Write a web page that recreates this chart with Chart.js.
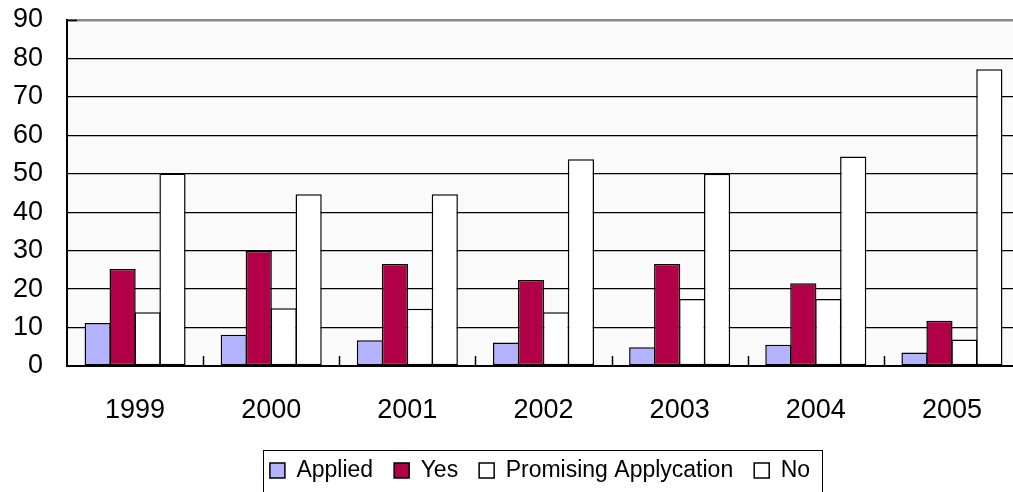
<!DOCTYPE html>
<html>
<head>
<meta charset="utf-8">
<script src="https://cdn.jsdelivr.net/npm/chart.js@4/dist/chart.umd.min.js"></script>
<style>
  html, body { margin: 0; padding: 0; background: #fff; overflow: hidden; }
  #chart { position: absolute; left: 0; top: 0; }
</style>
</head>
<body>
<canvas id="chart" width="1040" height="492"></canvas>
<script>
const years = ["1999", "2000", "2001", "2002", "2003", "2004", "2005"];
const applied = [11.2, 8.1, 6.7, 6.1, 4.9, 5.5, 3.5];
const yes = [25.2, 29.9, 26.5, 22.4, 26.5, 21.5, 11.8];
const promising = [14.0, 15.0, 14.9, 14.0, 17.4, 17.4, 6.9];
const no = [50.1, 44.7, 44.7, 53.8, 50.0, 54.5, 77.2];

const FONT = "'Liberation Sans', Arial, sans-serif";

// grey plot background, small inner tick marks, and the legend frame
const extras = {
  id: "extras",
  afterLayout(chart) {
    // legend sits a bit right of the canvas centre
    const lg = chart.legend;
    lg.left += 30;
    lg.right += 30;
  },
  beforeDraw(chart) {
    const { ctx, chartArea: a } = chart;
    ctx.save();
    ctx.fillStyle = "#fafafa";
    ctx.fillRect(a.left, a.top, a.right - a.left, a.bottom - a.top);
    ctx.restore();
  },
  afterDatasetsDraw(chart) {
    const { ctx, chartArea: a } = chart;
    const x = chart.scales.x;
    const y = chart.scales.y;
    ctx.save();
    ctx.strokeStyle = "#000";
    ctx.lineWidth = 1.5;
    ctx.beginPath();
    for (let i = 1; i < years.length; i++) {
      const px = Math.round((x.getPixelForValue(i - 1) + x.getPixelForValue(i)) / 2) + 0.5;
      ctx.moveTo(px, a.bottom);
      ctx.lineTo(px, a.bottom - 10);
    }
    const top = Math.round(y.getPixelForValue(90)) + 0.5;
    ctx.moveTo(a.left, top);
    ctx.lineTo(a.left + 10, top);
    ctx.stroke();

    const lg = chart.legend;
    const boxes = lg.legendHitBoxes;
    if (boxes && boxes.length) {
      const first = boxes[0];
      const last = boxes[boxes.length - 1];
      const left = Math.round(first.left - 7) + 0.5;
      const right = Math.round(last.left + last.width + 12) + 0.5;
      const t = Math.round(lg.top + 12) + 0.5;
      ctx.lineWidth = 1;
      ctx.strokeRect(left, t, right - left, 80);
    }
    ctx.restore();
  }
};

const border = { borderColor: "#000", borderWidth: 1.5, borderSkipped: false };

new Chart(document.getElementById("chart"), {
  type: "bar",
  data: {
    labels: years,
    datasets: [
      { label: "Applied", data: applied, backgroundColor: "#b3b3ff", ...border },
      { label: "Yes", data: yes, backgroundColor: "#b10048", ...border },
      { label: "Promising Applycation", data: promising, backgroundColor: "#ffffff", ...border },
      { label: "No", data: no, backgroundColor: "#ffffff", ...border }
    ]
  },
  options: {
    responsive: false,
    animation: false,
    devicePixelRatio: 1,
    layout: { padding: { left: 0, right: 20, top: 0, bottom: 0 } },
    datasets: {
      bar: { categoryPercentage: 0.733, barPercentage: 1.05 }
    },
    plugins: {
      legend: {
        position: "bottom",
        labels: {
          color: "#000",
          font: { family: FONT, size: 23 },
          boxWidth: 15,
          boxHeight: 15,
          padding: 21
        }
      },
      tooltip: { enabled: false }
    },
    scales: {
      x: {
        afterFit(scale) { scale.height = 72; },
        grid: { display: false, drawTicks: false },
        border: { color: "#000", width: 2 },
        ticks: { color: "#000", font: { family: FONT, size: 27 }, padding: 28 }
      },
      y: {
        min: 0,
        max: 90,
        afterFit(scale) {
          scale.width = 67;
          scale.paddingTop = 20;
          scale.paddingBottom = 0;
        },
        grid: {
          drawTicks: false,
          color: (c) => (c.tick && c.tick.value === 90 ? "#888" : "#000"),
          lineWidth: (c) => (c.tick && c.tick.value === 90 ? 2.5 : 1.3)
        },
        border: { color: "#000", width: 2 },
        ticks: { stepSize: 10, color: "#000", font: { family: FONT, size: 27 }, padding: 24 }
      }
    }
  },
  plugins: [extras]
});
</script>
</body>
</html>
